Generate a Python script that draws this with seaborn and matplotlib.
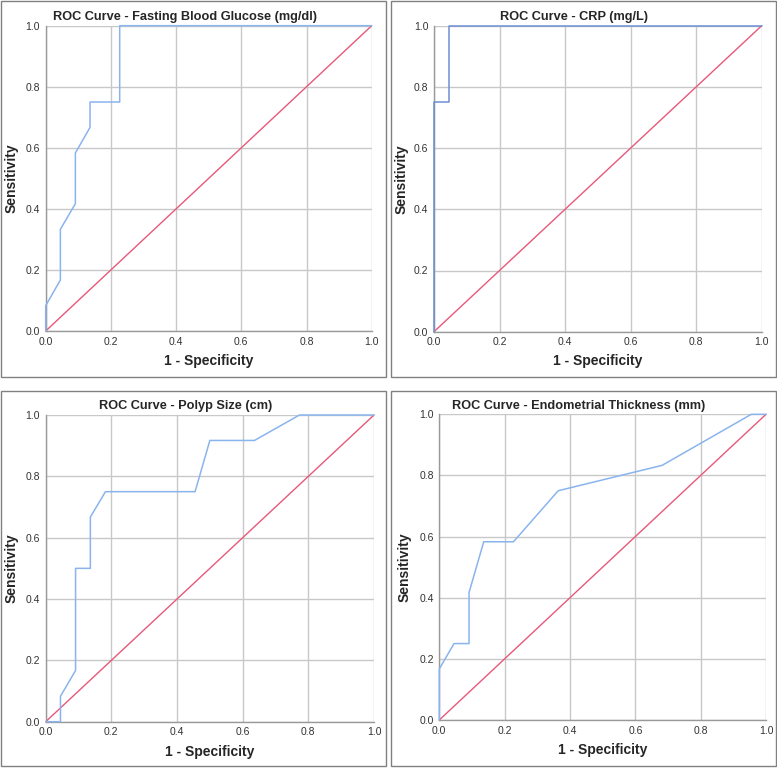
"""
ROC curves for four predictors, 2x2 panels in SPSS style
"""
import numpy as np
import pandas as pd
import matplotlib
matplotlib.use("Agg")
import matplotlib.pyplot as plt
from matplotlib.patches import Rectangle
import seaborn as sns

# ============ data ============
titles = [
    "ROC Curve - Fasting Blood Glucose (mg/dl)",
    "ROC Curve - CRP (mg/L)",
    "ROC Curve - Polyp Size (cm)",
    "ROC Curve - Endometrial Thickness (mm)",
]

fbg_fpr = [0.0, 0.0, 0.045, 0.045, 0.091, 0.091, 0.136, 0.136, 0.227, 0.227, 1.0]
fbg_tpr = [0.0, 0.083, 0.167, 0.333, 0.417, 0.583, 0.667, 0.75, 0.75, 1.0, 1.0]

crp_fpr = [0.0, 0.0, 0.045, 0.045, 1.0]
crp_tpr = [0.0, 0.75, 0.75, 1.0, 1.0]

polyp_fpr = [0.0, 0.045, 0.045, 0.091, 0.091, 0.136, 0.136, 0.182, 0.455, 0.5, 0.636, 0.773, 1.0]
polyp_tpr = [0.0, 0.0, 0.083, 0.167, 0.5, 0.5, 0.667, 0.75, 0.75, 0.917, 0.917, 1.0, 1.0]

endo_fpr = [0.0, 0.0, 0.045, 0.091, 0.091, 0.136, 0.227, 0.364, 0.682, 0.955, 1.0]
endo_tpr = [0.0, 0.167, 0.25, 0.25, 0.417, 0.583, 0.583, 0.75, 0.833, 1.0, 1.0]

ref_line = [0.0, 1.0]
ticks = [0.0, 0.2, 0.4, 0.6, 0.8, 1.0]
tick_labels = ["0.0", "0.2", "0.4", "0.6", "0.8", "1.0"]

curves = [(fbg_fpr, fbg_tpr), (crp_fpr, crp_tpr), (polyp_fpr, polyp_tpr), (endo_fpr, endo_tpr)]
curve_colors = ["#8ab4ee", "#6f8fd2", "#8ab4ee", "#8ab4ee"]

# ============ layout (pixels) ============
W, H = 777, 768
# axes: x0, x1 (px from left), ytop, ybottom (px from top)
axes_px = [(45.7, 371.7, 25.7, 331.0),
           (434.0, 761.7, 25.7, 331.7),
           (45.7, 374.0, 415.0, 721.7),
           (439.3, 766.0, 414.3, 720.0)]
# panel frames: left, top, right, bottom
boxes_px = [(1, 1, 386, 377), (391, 1, 776, 377), (1, 391, 386, 766), (391, 391, 776, 766)]
title_pos = [(185, 17), (574, 17), (186, 406), (579, 406)]
ylabel_x = [12, 402, 12, 405]
xlabel_y = [361, 361, 752, 750]

sns.set_style("white")
plt.rcParams['font.family'] = ['Liberation Sans', 'DejaVu Sans']

fig = plt.figure(figsize=(W / 100, H / 100), dpi=100)
fig.patch.set_facecolor("white")

for i in range(4):
    x0, x1, yt, yb = axes_px[i]
    ax = fig.add_axes([x0 / W, 1 - yb / H, (x1 - x0) / W, (yb - yt) / H])

    fpr, tpr = curves[i]
    df = pd.DataFrame({"fpr": fpr, "tpr": tpr})
    sns.lineplot(data=df, x="fpr", y="tpr", sort=False, estimator=None,
                 color=curve_colors[i], linewidth=1.1, ax=ax, zorder=3, clip_on=False)
    sns.lineplot(x=ref_line, y=ref_line, sort=False, estimator=None,
                 color="#e8587a", linewidth=1.0, ax=ax, zorder=2, clip_on=False)

    ax.set_xlim(0, 1)
    ax.set_ylim(0, 1)
    ax.set_xticks(ticks)
    ax.set_yticks(ticks)
    ax.set_xticklabels(tick_labels)
    ax.set_yticklabels(tick_labels)
    ax.tick_params(length=0, labelsize=7.5, labelcolor="#333333", pad=4)
    ax.grid(True, color="#c8c8c8", linewidth=1.0)
    ax.set_axisbelow(True)
    for side in ["top", "right"]:
        ax.spines[side].set_visible(False)
    for side in ["left", "bottom"]:
        ax.spines[side].set_color("#999999")
        ax.spines[side].set_linewidth(1.0)
    ax.set_xlabel("")
    ax.set_ylabel("")

    # labels and title placed in figure pixels
    fig.text(ylabel_x[i] / W, 1 - ((yt + yb) / 2) / H, "Sensitivity", rotation=90,
             ha="center", va="center", fontsize=10, fontweight="bold")
    fig.text(((x0 + x1) / 2) / W, 1 - xlabel_y[i] / H, "1 - Specificity",
             ha="center", va="center", fontsize=10, fontweight="bold")
    fig.text(title_pos[i][0] / W, 1 - title_pos[i][1] / H, titles[i],
             ha="center", va="center", fontsize=9.2, fontweight="bold")

    # panel frame
    l, t, r, b = boxes_px[i]
    fig.patches.append(Rectangle((l / W, 1 - b / H), (r - l) / W, (b - t) / H,
                                 transform=fig.transFigure, fill=False,
                                 edgecolor="#808080", linewidth=1.0))

plt.savefig("out.png", dpi=100)
